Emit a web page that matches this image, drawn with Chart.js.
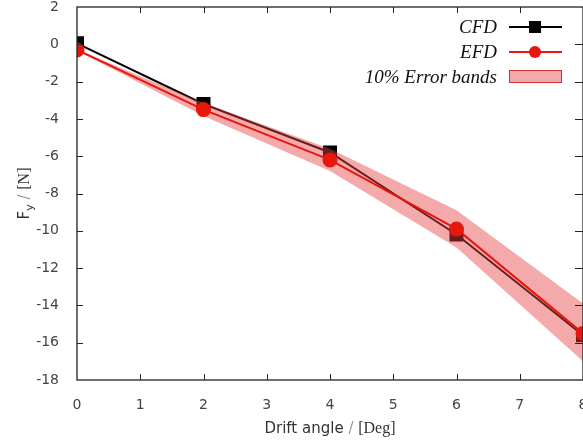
<!DOCTYPE html>
<html>
<head>
<meta charset="utf-8">
<script src="https://cdn.jsdelivr.net/npm/chart.js@4/dist/chart.umd.min.js"></script>
<style>
  html, body { margin: 0; padding: 0; background: #fff; overflow: hidden; }
  #wrap { width: 583px; height: 441px; }
</style>
</head>
<body>
<div id="wrap"><canvas id="c"></canvas></div>
<script>
// data
var angles = [0, 2, 4, 6, 8];
var cfd = [0.05, -3.2, -5.8, -10.2, -15.6];
var efd = [-0.3, -3.5, -6.2, -9.9, -15.5];
var bandUpper = [-0.27, -3.15, -5.6, -8.9, -13.9];
var bandLower = [-0.33, -3.85, -6.8, -10.9, -17.0];
var legendLabels = ['CFD', 'EFD', '10% Error bands'];

var bandColor = 'rgba(231,67,67,0.45)';
var efdColor = '#e8170e';

function pts(ys) {
    return angles.map(function (a, i) { return { x: a, y: ys[i] }; });
}

// draw a string made of pieces with different fonts, centred on x
function drawParts(ctx, parts, x, y) {
    var total = 0;
    parts.forEach(function (p) { ctx.font = p.font; total += ctx.measureText(p.t).width; });
    var cx = x - total / 2;
    parts.forEach(function (p) {
        ctx.font = p.font;
        ctx.fillStyle = p.color || '#333';
        ctx.fillText(p.t, cx, y + (p.dy || 0));
        cx += ctx.measureText(p.t).width;
    });
}

var framePlugin = {
    id: 'frame',
    afterDraw: function (chart) {
        var ctx = chart.ctx, a = chart.chartArea;
        var xs = chart.scales.x, ys = chart.scales.y;
        ctx.save();
        ctx.strokeStyle = '#222';
        ctx.lineWidth = 1.3;
        ctx.strokeRect(a.left, a.top, a.right - a.left, a.bottom - a.top);
        // inward ticks on all sides
        ctx.lineWidth = 1;
        ctx.beginPath();
        for (var v = 1; v < 8; v++) {
            var px = Math.round(xs.getPixelForValue(v)) + 0.5;
            ctx.moveTo(px, a.bottom); ctx.lineTo(px, a.bottom - 6);
            ctx.moveTo(px, a.top); ctx.lineTo(px, a.top + 6);
        }
        for (var w = -16; w <= 0; w += 2) {
            var py = Math.round(ys.getPixelForValue(w)) + 0.5;
            ctx.moveTo(a.left, py); ctx.lineTo(a.left + 6, py);
            ctx.moveTo(a.right, py); ctx.lineTo(a.right - 8, py);
        }
        ctx.stroke();

        // axis titles
        ctx.textBaseline = 'alphabetic';
        drawParts(ctx, [
            { t: 'Drift angle', font: '15px "DejaVu Sans"' },
            { t: ' / ', font: '15px "DejaVu Sans"', color: '#999' },
            { t: '[Deg]', font: '16px "Liberation Serif"' }
        ], (a.left + a.right) / 2, 433);

        ctx.save();
        ctx.translate(29, (a.top + a.bottom) / 2);
        ctx.rotate(-Math.PI / 2);
        drawParts(ctx, [
            { t: 'F', font: '15px "DejaVu Sans"' },
            { t: 'y', font: '11px "DejaVu Sans"', dy: 4 },
            { t: ' / ', font: '15px "DejaVu Sans"', color: '#999' },
            { t: '[N]', font: '16px "Liberation Serif"' }
        ], 0, 0);
        ctx.restore();

        // legend, text to the left of the symbol
        var rows = [27, 52, 77];
        ctx.fillStyle = '#111';
        ctx.font = 'italic 19px "Liberation Serif"';
        ctx.textAlign = 'right';
        ctx.textBaseline = 'middle';
        legendLabels.forEach(function (t, i) { ctx.fillText(t, 497, rows[i] + 1); });

        ctx.lineWidth = 2;
        ctx.strokeStyle = '#000';
        ctx.beginPath(); ctx.moveTo(509, rows[0]); ctx.lineTo(562, rows[0]); ctx.stroke();
        ctx.fillStyle = '#000';
        ctx.fillRect(529, rows[0] - 6, 12, 12);

        ctx.strokeStyle = efdColor;
        ctx.beginPath(); ctx.moveTo(509, rows[1]); ctx.lineTo(562, rows[1]); ctx.stroke();
        ctx.fillStyle = efdColor;
        ctx.beginPath(); ctx.arc(535, rows[1], 6, 0, Math.PI * 2); ctx.fill();

        ctx.fillStyle = bandColor;
        ctx.fillRect(509, rows[2] - 7, 53, 13);
        ctx.lineWidth = 1;
        ctx.strokeStyle = '#d83030';
        ctx.strokeRect(509.5, rows[2] - 6.5, 52, 12);
        ctx.restore();
    }
};

new Chart(document.getElementById('c'), {
    type: 'scatter',
    data: {
        datasets: [
            {
                label: 'CFD',
                data: pts(cfd),
                showLine: true,
                borderColor: '#000',
                backgroundColor: '#000',
                borderWidth: 2,
                pointStyle: 'rect',
                pointRadius: 8.5,
                pointHoverRadius: 8.5,
                order: 3
            },
            {
                label: 'band upper',
                data: pts(bandUpper),
                showLine: true,
                borderWidth: 0,
                borderColor: 'rgba(0,0,0,0)',
                backgroundColor: bandColor,
                pointRadius: 0,
                fill: '+1',
                order: 2
            },
            {
                label: 'band lower',
                data: pts(bandLower),
                showLine: true,
                borderWidth: 0,
                borderColor: 'rgba(0,0,0,0)',
                pointRadius: 0,
                fill: false,
                order: 2
            },
            {
                label: 'EFD',
                data: pts(efd),
                showLine: true,
                borderColor: efdColor,
                backgroundColor: efdColor,
                borderWidth: 2,
                pointStyle: 'circle',
                pointRadius: 6.5,
                pointHoverRadius: 6.5,
                order: 1
            }
        ]
    },
    options: {
        responsive: true,
        maintainAspectRatio: false,
        animation: false,
        layout: { autoPadding: false, padding: { top: 7, right: 0, left: 0, bottom: 0 } },
        plugins: {
            legend: { display: false },
            tooltip: { enabled: false }
        },
        scales: {
            x: {
                type: 'linear',
                min: 0,
                max: 8,
                ticks: { stepSize: 1, padding: 9, color: '#444', font: { family: 'DejaVu Sans', size: 14 } },
                grid: { display: false },
                border: { display: false },
                afterFit: function (s) { s.height = 61; s.paddingLeft = 0; s.paddingRight = 0; }
            },
            y: {
                min: -18,
                max: 2,
                ticks: { stepSize: 2, padding: 10, color: '#444', font: { family: 'DejaVu Sans', size: 14 } },
                grid: { display: false },
                border: { display: false },
                afterFit: function (s) { s.width = 77; s.paddingTop = 0; s.paddingBottom = 0; }
            }
        }
    },
    plugins: [framePlugin]
});
</script>
</body>
</html>
